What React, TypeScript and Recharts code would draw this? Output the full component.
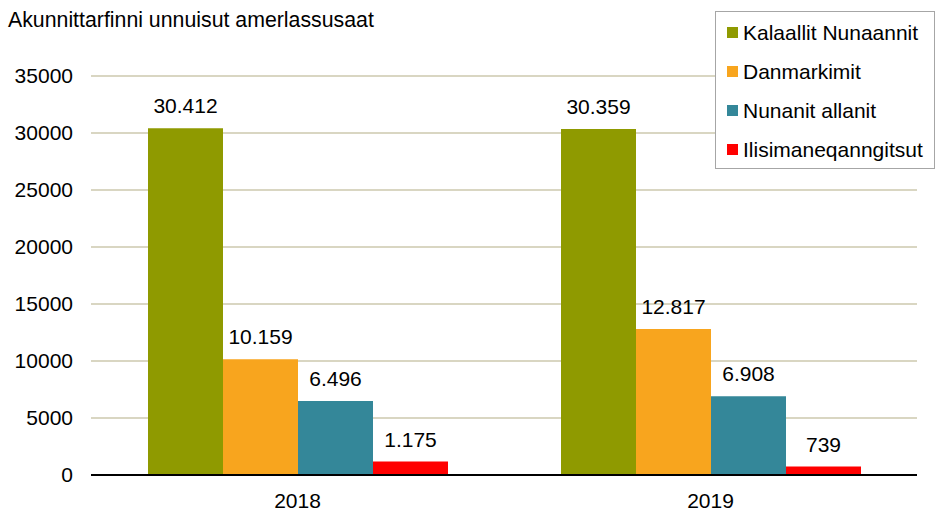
import React from 'react';
import { BarChart, Bar, XAxis, YAxis, CartesianGrid, LabelList, Legend } from 'recharts';

const categories = ['2018', '2019'];
const kalaallitNunaannit = [30412, 30359];
const danmarkimit = [10159, 12817];
const nunanitAllanit = [6496, 6908];
const ilisimaneqanngitsut = [1175, 739];
const yTicks = [0, 5000, 10000, 15000, 20000, 25000, 30000, 35000];

const seriesKeys = ['k', 'd', 'n', 'i'];
const seriesNames = ['Kalaallit Nunaannit', 'Danmarkimit', 'Nunanit allanit', 'Ilisimaneqanngitsut'];
const seriesColors = ['#8F9A00', '#F8A51E', '#348799', '#FF0000'];

const data = categories.map((year, idx) => ({
  year,
  k: kalaallitNunaannit[idx],
  d: danmarkimit[idx],
  n: nunanitAllanit[idx],
  i: ilisimaneqanngitsut[idx],
}));

const FONT = '"Liberation Sans", Arial, sans-serif';
const fmt = (v: any) => String(v).replace(/\B(?=(\d{3})+(?!\d))/g, '.');

const LegendBox = () => (
  <div
    style={{
      width: 220,
      height: 158,
      border: '1px solid #A6A6A6',
      background: '#fff',
      boxSizing: 'border-box',
      fontFamily: FONT,
      fontSize: 21,
      color: '#000',
      paddingTop: 1,
      textAlign: 'left',
    }}
  >
    {seriesNames.map((name, idx) => (
      <div key={name} style={{ height: 39, display: 'flex', alignItems: 'center' }}>
        <div style={{ width: 11, height: 11, background: seriesColors[idx], marginLeft: 11, marginRight: 5 }} />
        <span style={{ whiteSpace: 'nowrap' }}>{name}</span>
      </div>
    ))}
  </div>
);

export default function App() {
  return (
    <div style={{ position: 'absolute', left: 0, top: 0, width: 939, height: 512, background: '#fff' }}>
      <div
        style={{
          position: 'absolute',
          left: 8,
          top: 8,
          fontFamily: FONT,
          fontSize: 21.3,
          color: '#000',
          whiteSpace: 'nowrap',
          zIndex: 2,
        }}
      >
        Akunnittarfinni unnuisut amerlassusaat
      </div>
      <BarChart
        width={939}
        height={512}
        data={data}
        margin={{ top: 76, right: 22, bottom: 7, left: 0 }}
        barGap={0}
        barSize={75}
      >
        <CartesianGrid vertical={false} stroke="#D9D6C2" strokeWidth={2} />
        <XAxis
          dataKey="year"
          height={30}
          tickLine={false}
          axisLine={{ stroke: '#000', strokeWidth: 2 }}
          tick={{ fill: '#000', fontSize: 21, fontFamily: FONT }}
          tickMargin={12}
        />
        <YAxis
          width={91}
          domain={[0, 35000]}
          ticks={yTicks}
          interval={0}
          axisLine={false}
          tickLine={false}
          tickMargin={12}
          tick={{ fill: '#000', fontSize: 21, fontFamily: FONT }}
        />
        <Legend
          layout="horizontal"
          verticalAlign="middle"
          align="center"
          content={() => <LegendBox />}
          wrapperStyle={{ position: 'absolute', left: 715, top: 11, width: 220, height: 158 }}
        />
        {seriesKeys.map((key, idx) => (
          <Bar key={key} dataKey={key} name={seriesNames[idx]} fill={seriesColors[idx]} isAnimationActive={false}>
            <LabelList
              dataKey={key}
              position="top"
              offset={15}
              formatter={fmt}
              style={{ fill: '#000', fontSize: 21, fontFamily: FONT }}
            />
          </Bar>
        ))}
      </BarChart>
    </div>
  );
}
